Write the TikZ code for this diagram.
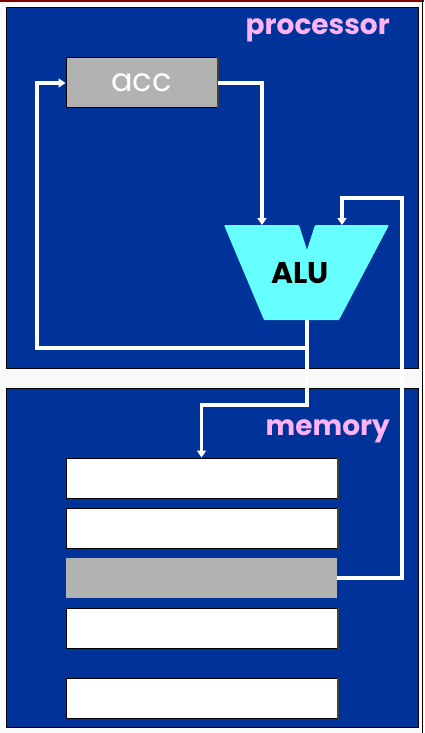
\documentclass[tikz,border=0pt]{standalone}
\usepackage{fontspec}
\setmainfont{Poppins}
\usetikzlibrary{arrows.meta,calc,positioning}
\definecolor{boardblue}{HTML}{003399}
\definecolor{alucyan}{HTML}{66FFFF}
\definecolor{labelpink}{HTML}{FFB3F5}
\definecolor{reggray}{HTML}{B2B2B2}
\definecolor{framered}{HTML}{800000}
\tikzset{
  unitbox/.style={draw=black,fill=boardblue,line width=1pt,minimum width=412pt,inner sep=0pt},
  unitlabel/.style={text=labelpink,font=\bfseries\fontsize{28}{28}\selectfont,anchor=base east,inner sep=0pt},
  regbox/.style={draw=black,fill=white,line width=1pt,minimum width=271pt,minimum height=40pt,inner sep=0pt},
  reggraybox/.style={fill=reggray,minimum width=271pt,minimum height=40pt,inner sep=0pt},
  regshadow/.style={gray!50!black,line width=2pt},
  wire/.style={white,line width=3.4pt},
  wirearrow/.style={wire,-{Triangle[width=9pt,length=7pt]}}
}
\begin{document}
\begin{tikzpicture}[x=1pt,y=-1pt]
\useasboundingbox (0,0) rectangle (424,733);
\fill[white!95!gray] (0,0) rectangle (424,733);
\draw[framered,line width=2pt] (0,1) -- (424,1);
\draw[black,line width=1pt] (422,0) -- (422,733);
% processor and memory
\node[unitbox,minimum height=360pt] (proc) at (212,188) {};
\node[unitbox,minimum height=339pt] (mem) at (212,557.5) {};
\node[unitlabel] (proclabel) at (390,35) {processor};
\node[unitlabel] (memlabel) at (390,435) {memory};
% accumulator
\node[draw=black,fill=reggray,line width=1pt,minimum width=151pt,minimum height=50pt,inner sep=0pt,
  text=white,font=\fontsize{32}{32}\selectfont] (acc) at (141.5,83) {acc};
\draw[regshadow] (acc.north east) -- (acc.south east);
% ALU
\fill[alucyan,rounded corners=1pt] (224,225) -- (299,225) -- (307,250) -- (315,225) -- (389,225)
  -- (339,320) -- (264,320) -- cycle;
\node[font=\bfseries\fontsize{30}{30}\selectfont] (alu) at (300,273) {ALU};
\coordinate (aluinA) at (262,225);
\coordinate (aluinB) at (342,225);
\coordinate (aluout) at (307,320);
% memory rows
\foreach \i/\y in {1/478,2/528,4/628,5/698}{
  \node[regbox] (r\i) at (201.5,\y) {};
  \draw[regshadow] (r\i.north east) -- (r\i.south east);
}
\node[reggraybox] (r3) at (201.5,578) {};
% connectors
\coordinate (bendB) at (402,198);
\coordinate (split) at (307,348);
\coordinate (loopL) at (37,348);
\coordinate (drop) at (307,405);
\draw[wirearrow] (acc.east) -| (aluinA);
\draw[wirearrow] (r3.east) -| (bendB) -| (aluinB);
\draw[wire] (aluout) -- (split);
\draw[wirearrow] (split) -- (loopL) |- (acc.west);
\draw[wirearrow] (split) -- (drop) -| (r1.north);
\end{tikzpicture}
\end{document}
